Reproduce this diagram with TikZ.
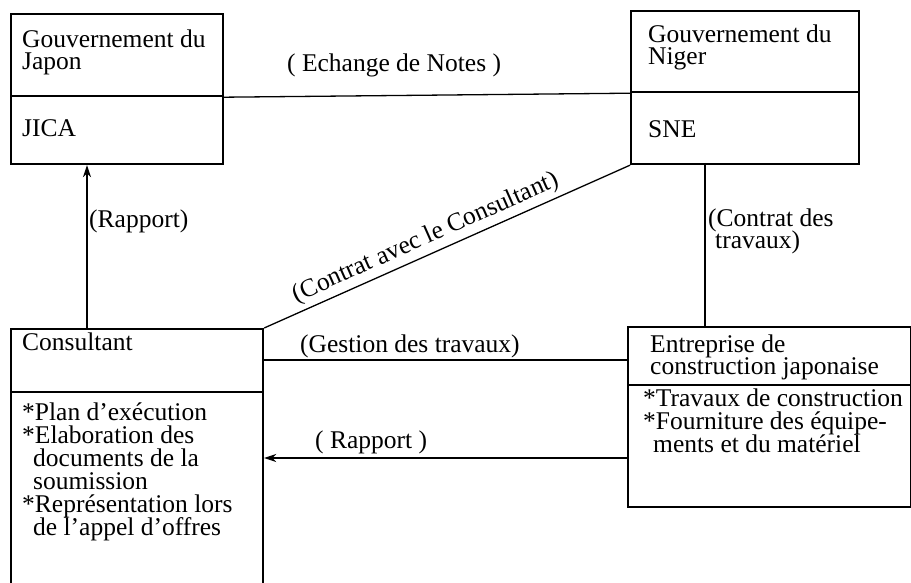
\documentclass[tikz,border=0pt]{standalone}
\usepackage{fontspec}
\setmainfont{Liberation Serif}
\usetikzlibrary{arrows.meta}
\begin{document}
\begin{tikzpicture}[x=1pt,y=-1pt,
  box/.style={draw, line width=2.2pt, inner sep=0pt, anchor=north west},
  conn/.style={line width=1.3pt},
  arr/.style={conn, -{Stealth[length=12pt,width=8pt]}},
  txt/.style={inner sep=0pt, anchor=base west, font=\fontsize{25.5}{23}\selectfont},
  lbl/.style={inner sep=0pt, font=\fontsize{25.5}{23}\selectfont}]
\useasboundingbox (0,0) rectangle (911,583);
% boxes
\node[box, minimum width=212pt, minimum height=82pt] (japT) at (10,13) {};
\node[box, minimum width=212pt, minimum height=68pt] (japB) at (10,95) {};
\node[box, minimum width=228pt, minimum height=81pt] (nigT) at (630,10) {};
\node[box, minimum width=228pt, minimum height=72pt] (nigB) at (630,91) {};
\node[box, minimum width=252pt, minimum height=63pt] (conT) at (10,328) {};
\node[box, minimum width=252pt, minimum height=230pt] (conB) at (10,391) {};
\node[box, minimum width=283pt, minimum height=58pt] (entT) at (627,326) {};
\node[box, minimum width=283pt, minimum height=122pt] (entB) at (627,384) {};
% texts
\node[txt] (j1) at (22,48) {Gouvernement du};
\node[txt] (j2) at (22,70) {Japon};
\node[txt] (j3) at (22,137) {JICA};
\node[txt] (n1) at (648,43) {Gouvernement du};
\node[txt] (n2) at (648,65) {Niger};
\node[txt] (n3) at (648,138) {SNE};
\node[txt] (c1) at (22,350) {Consultant};
\node[txt] (c2) at (22,420) {*Plan d'exécution};
\node[txt] (c3) at (22,443) {*Elaboration des};
\node[txt] (c4) at (33,466) {documents de la};
\node[txt] (c5) at (33,489) {soumission};
\node[txt] (c6) at (22,512) {*Représentation lors};
\node[txt] (c7) at (33,535) {de l'appel d'offres};
\node[txt] (e1) at (650,352) {Entreprise de};
\node[txt] (e2) at (650,374) {construction japonaise};
\node[txt] (e3) at (643,406) {*Travaux de construction};
\node[txt] (e4) at (643,429) {*Fourniture des équipe-};
\node[txt] (e5) at (653,452) {ments et du matériel};
% connectors
\draw[conn] (japT.south east) -- (nigT.south west);
\node[txt] (lech) at (287,72) {( Echange de Notes )};
\coordinate (rp) at (87,328);
\draw[arr] (rp) -- (rp |- japB.south);
\node[txt] (lrap) at (89,228) {(Rapport)};
\draw[conn] (conT.north east) -- node[lbl, sloped, above=4pt, pos=0.46] (lcc) {(Contrat avec le Consultant)} (nigB.south west);
\coordinate (ct) at (705,163);
\draw[conn] (ct) -- (ct |- entT.north);
\node[txt] (lct1) at (708,226) {(Contrat des};
\node[txt] (lct2) at (715,248) {travaux)};
\coordinate (gy) at (400,360);
\draw[conn] (entT.west |- gy) -- (conT.east |- gy);
\node[txt] (lges) at (300,352) {(Gestion des travaux)};
\coordinate (ry) at (400,458);
\draw[arr] (entB.west |- ry) -- (conB.east |- ry);
\node[txt] (lrap2) at (315,448) {( Rapport )};
\end{tikzpicture}
\end{document}
